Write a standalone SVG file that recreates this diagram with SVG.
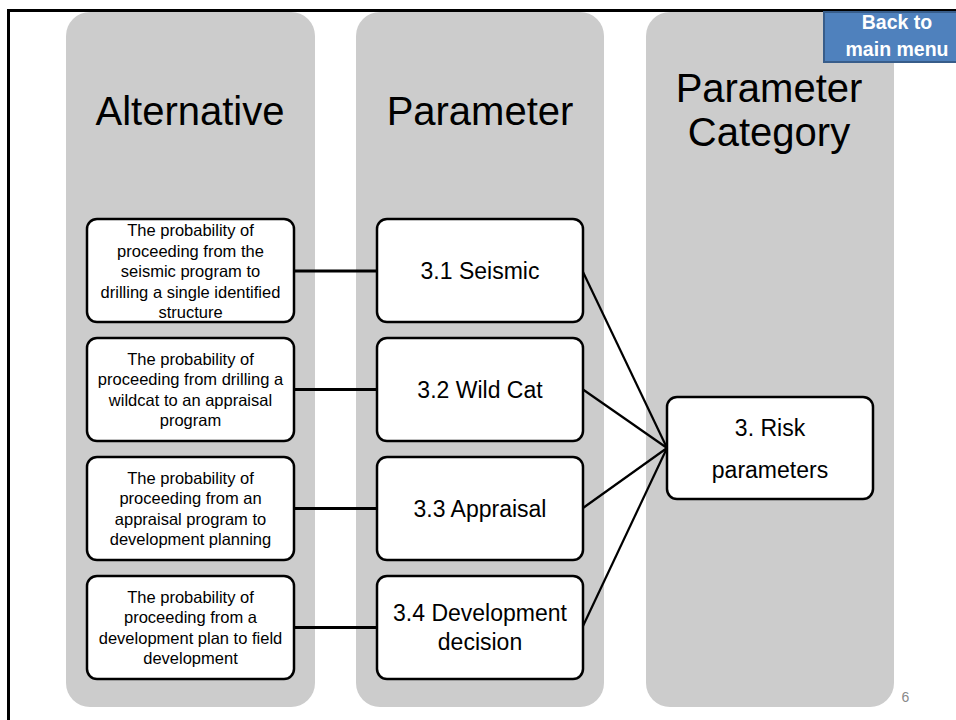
<svg xmlns="http://www.w3.org/2000/svg" width="956" height="720" viewBox="0 0 956 720">
  <style>
    text { font-family: "Liberation Sans", Arial, sans-serif; fill: #000; text-anchor: middle; }
    .col { fill: #CCCCCC; }
    .box { fill: #FFFFFF; stroke: #000; stroke-width: 2.5; }
    .head { font-size: 40px; }
    .alt { font-size: 16.5px; }
    .par { font-size: 23px; }
    .link { stroke: #000; fill: none; }
    .h { stroke-width: 3; }
    .d { stroke-width: 2.2; }
    .btn { fill: #4F81BD; stroke: #385D8A; stroke-width: 2; }
    .btntxt { font-size: 19.5px; font-weight: bold; fill: #FFFFFF; }
    .pg { font-size: 14px; fill: #898989; }
  </style>

  <rect width="956" height="720" fill="#FFFFFF"/>

  <!-- column backgrounds -->
  <rect class="col" x="66" y="12" width="249" height="695" rx="24"/>
  <rect class="col" x="356" y="12" width="248" height="695" rx="24"/>
  <rect class="col" x="646" y="12" width="248" height="695" rx="24"/>

  <!-- slide frame -->
  <path d="M8.5 720 V10.5 H956" fill="none" stroke="#000" stroke-width="3"/>

  <!-- column headings -->
  <text class="head" x="190" y="125">Alternative</text>
  <text class="head" x="480" y="125">Parameter</text>
  <text class="head" x="769" y="102">Parameter</text>
  <text class="head" x="769" y="146">Category</text>

  <!-- connectors -->
  <g id="connectors">
    <line class="link h" x1="294" y1="271" x2="377" y2="271"/>
    <line class="link h" x1="294" y1="389.5" x2="377" y2="389.5"/>
    <line class="link h" x1="294" y1="508.5" x2="377" y2="508.5"/>
    <line class="link h" x1="294" y1="627.5" x2="377" y2="627.5"/>
    <line class="link d" x1="583" y1="272" x2="667" y2="448"/>
    <line class="link d" x1="583" y1="389.5" x2="667" y2="448"/>
    <line class="link d" x1="583" y1="508" x2="667" y2="448"/>
    <line class="link d" x1="583" y1="626" x2="667" y2="448"/>
  </g>

  <!-- alternatives -->
  <g id="alt1">
    <rect class="box" x="87" y="219" width="207" height="103" rx="10"/>
    <text class="alt" x="190.5" y="236">The probability of</text>
    <text class="alt" x="190.5" y="256.5">proceeding from the</text>
    <text class="alt" x="190.5" y="277">seismic program to</text>
    <text class="alt" x="190.5" y="297.5">drilling a single identified</text>
    <text class="alt" x="190.5" y="318">structure</text>
  </g>
  <g id="alt2">
    <rect class="box" x="87" y="338" width="207" height="103" rx="10"/>
    <text class="alt" x="190.5" y="364.5">The probability of</text>
    <text class="alt" x="190.5" y="385">proceeding from drilling a</text>
    <text class="alt" x="190.5" y="405.5">wildcat to an appraisal</text>
    <text class="alt" x="190.5" y="426">program</text>
  </g>
  <g id="alt3">
    <rect class="box" x="87" y="457" width="207" height="103" rx="10"/>
    <text class="alt" x="190.5" y="483.5">The probability of</text>
    <text class="alt" x="190.5" y="504">proceeding from an</text>
    <text class="alt" x="190.5" y="524.5">appraisal program to</text>
    <text class="alt" x="190.5" y="545">development planning</text>
  </g>
  <g id="alt4">
    <rect class="box" x="87" y="576" width="207" height="103" rx="10"/>
    <text class="alt" x="190.5" y="602.5">The probability of</text>
    <text class="alt" x="190.5" y="623">proceeding from a</text>
    <text class="alt" x="190.5" y="643.5">development plan to field</text>
    <text class="alt" x="190.5" y="664">development</text>
  </g>

  <!-- parameters -->
  <g id="par1">
    <rect class="box" x="377" y="219" width="206" height="103" rx="10"/>
    <text class="par" x="480" y="278.5">3.1 Seismic</text>
  </g>
  <g id="par2">
    <rect class="box" x="377" y="338" width="206" height="103" rx="10"/>
    <text class="par" x="480" y="397.5">3.2 Wild Cat</text>
  </g>
  <g id="par3">
    <rect class="box" x="377" y="457" width="206" height="103" rx="10"/>
    <text class="par" x="480" y="516.5">3.3 Appraisal</text>
  </g>
  <g id="par4">
    <rect class="box" x="377" y="576" width="206" height="103" rx="10"/>
    <text class="par" x="480" y="620.5">3.4 Development</text>
    <text class="par" x="480" y="649.5">decision</text>
  </g>

  <!-- category -->
  <g id="cat1">
    <rect class="box" x="667" y="397" width="206" height="102" rx="10"/>
    <text class="par" x="770" y="436">3. Risk</text>
    <text class="par" x="770" y="478">parameters</text>
  </g>

  <!-- navigation button -->
  <g id="back">
    <rect class="btn" x="824" y="12" width="146" height="50"/>
    <text class="btntxt" x="897" y="29">Back to</text>
    <text class="btntxt" x="897" y="56">main menu</text>
  </g>

  <text class="pg" x="905.5" y="702">6</text>
</svg>
